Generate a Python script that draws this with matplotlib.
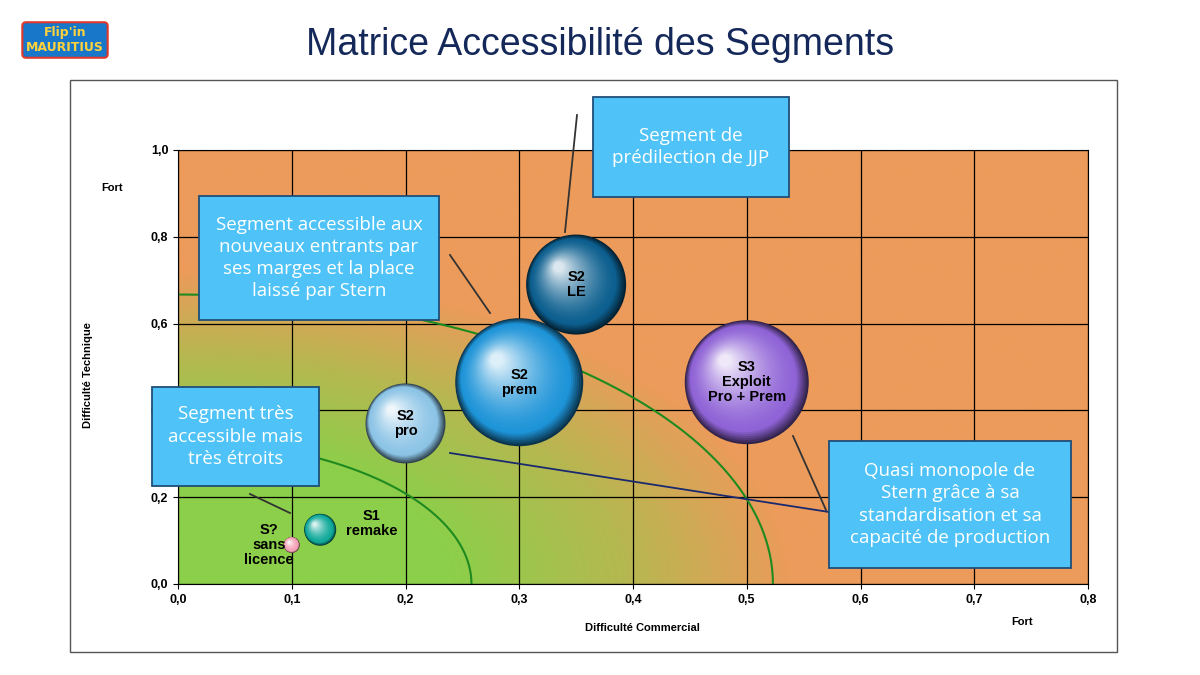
import matplotlib.pyplot as plt
import numpy as np
from matplotlib.patches import Ellipse, Rectangle
from matplotlib.colors import LinearSegmentedColormap, to_rgb

# bubble data
labels = ["S?\nsans\nlicence", "S1\nremake", "S2\npro", "S2\nprem", "S2\nLE", "S3\nExploit\nPro + Prem"]
x_comm = [0.10, 0.125, 0.20, 0.30, 0.35, 0.50]
y_tech = [0.09, 0.125, 0.37, 0.465, 0.69, 0.465]
radius_px = [8, 16, 40, 64, 50, 62]
base_colors = ["#f4a0b4", "#0fa99a", "#8cc4e6", "#1e94d8", "#0c5f8f", "#8f63d6"]
label_pos = [(0.08, 0.09), (0.17, 0.14), (0.2, 0.37), (0.3, 0.465), (0.35, 0.69), (0.5, 0.465)]

W, H = 1200, 675
fig = plt.figure(figsize=(12, 6.75), dpi=100)
fig.patch.set_facecolor("white")
fig.add_artist(Rectangle((70 / W, 1 - 652 / H), 1047 / W, 572 / H, transform=fig.transFigure,
                         fill=False, edgecolor="#555555", lw=1))

ax = fig.add_axes([178 / W, 1 - 584 / H, 910 / W, 434 / H])
ax.set_xlim(0, 0.8)
ax.set_ylim(0, 1.0)
px_x = 910 / 0.8
px_y = 434 / 1.0

# background gradient green -> orange
gx, gy = np.meshgrid(np.linspace(0, 0.8, 300), np.linspace(0, 1, 300))
val = np.clip(np.sqrt((gx / 0.6) ** 2 + (gy / 0.8) ** 2) - 0.4, 0, 0.5) / 0.5
cmap = LinearSegmentedColormap.from_list("bg", ["#8ccf4a", "#b4b850", "#ec9b5b"])
ax.imshow(val, extent=(0, 0.8, 0, 1), origin="lower", cmap=cmap, aspect="auto", zorder=0)
ax.grid(True, color="black", lw=0.9, zorder=1)
ax.set_xticks(np.arange(0, 0.81, 0.1))
ax.set_yticks(np.arange(0, 1.01, 0.2))
ax.set_xticklabels([f"{v:.1f}".replace(".", ",") for v in np.arange(0, 0.81, 0.1)],
                   fontsize=9, fontweight="bold", family="Liberation Sans")
ax.set_yticklabels([f"{v:.1f}".replace(".", ",") for v in np.arange(0, 1.01, 0.2)],
                   fontsize=9, fontweight="bold", family="Liberation Sans")
for s in ax.spines.values():
    s.set_color("black")

# green frontier curves
t = np.linspace(0, np.pi / 2, 200)
ax.plot(0.523 * np.cos(t), 0.667 * np.sin(t), color="#1f8a1f", lw=1.5, zorder=2)
ax.plot(0.258 * np.cos(t), 0.33 * np.sin(t), color="#1f8a1f", lw=1.5, zorder=2)

# shaded spheres
for x, y, r, c in zip(x_comm, y_tech, radius_px, base_colors):
    base = np.array(to_rgb(c))
    dark = base * 0.35
    light = base + (1 - base) * 0.85
    n = 40
    for i in range(n):
        f = i / (n - 1)
        rr = r * (1 - 0.9 * f)
        cx = x - 0.35 * r * f / px_x
        cy = y + 0.35 * r * f / px_y
        if f < 0.15:
            col = dark + (base - dark) * (f / 0.15)
        else:
            col = base + (light - base) * ((f - 0.15) / 0.85) ** 1.5
        ax.add_patch(Ellipse((cx, cy), 2 * rr / px_x, 2 * rr / px_y, facecolor=col, edgecolor="none", zorder=3))

for lab, (lx, ly) in zip(labels, label_pos):
    ax.text(lx, ly, lab, ha="center", va="center", fontsize=10.5, fontweight="bold", zorder=5,
            family="Liberation Sans", linespacing=1.1)

# axis labels
fig.text(88 / W, 1 - 375 / H, "Difficulté Technique", rotation=90, ha="center", va="center",
         fontsize=8, fontweight="bold", family="Liberation Sans")
fig.text(112 / W, 1 - 188 / H, "Fort", ha="center", va="center", fontsize=8, fontweight="bold", family="Liberation Sans")
fig.text(642 / W, 1 - 628 / H, "Difficulté Commercial", ha="center", va="center",
         fontsize=8, fontweight="bold", family="Liberation Sans")
fig.text(1022 / W, 1 - 622 / H, "Fort", ha="center", va="center", fontsize=8, fontweight="bold", family="Liberation Sans")

fig.text(600 / W, 1 - 45 / H, "Matrice Accessibilité des Segments", ha="center", va="center",
         fontsize=27, color="#14285a", family=["Liberation Sans Narrow", "Liberation Sans"])
fig.text(65 / W, 1 - 40 / H, "Flip'in\nMAURITIUS", ha="center", va="center", fontsize=9, fontweight="bold",
         color="#ffd23c", bbox=dict(boxstyle="round,pad=0.3", fc="#1877c9", ec="#e2382b", lw=1.5))

# connector lines (figure pixels)
lines = [((577, 115), (565, 232)), ((450, 255), (490, 313)), ((250, 494), (290, 513)),
         ((793, 436), (826, 510)), ((450, 453), (829, 512))]
line_colors = ["#333333", "#333333", "#333333", "#333333", "#1b2a6e"]
for ((x0, y0), (x1, y1)), lc in zip(lines, line_colors):
    fig.add_artist(plt.Line2D([x0 / W, x1 / W], [1 - y0 / H, 1 - y1 / H], transform=fig.transFigure,
                              color=lc, lw=1.3, zorder=6))

# callout boxes
boxes = [
    ((593, 97, 196, 100), "Segment de\nprédilection de JJP"),
    ((199, 196, 240, 124), "Segment accessible aux\nnouveaux entrants par\nses marges et la place\nlaissé par Stern"),
    ((152, 387, 167, 99), "Segment très\naccessible mais\ntrès étroits"),
    ((829, 441, 242, 127), "Quasi monopole de\nStern grâce à sa\nstandardisation et sa\ncapacité de production"),
]
for (bx, by, bw, bh), txt in boxes:
    fig.add_artist(Rectangle((bx / W, 1 - (by + bh) / H), bw / W, bh / H, transform=fig.transFigure,
                             facecolor="#4fc3f7", edgecolor="#1f4e79", lw=1.3, zorder=7))
    fig.text((bx + bw / 2) / W, 1 - (by + bh / 2) / H, txt, ha="center", va="center", fontsize=13.5,
             color="white", family="Open Sans", linespacing=1.3, zorder=8)

fig.savefig("out.png", dpi=100)
